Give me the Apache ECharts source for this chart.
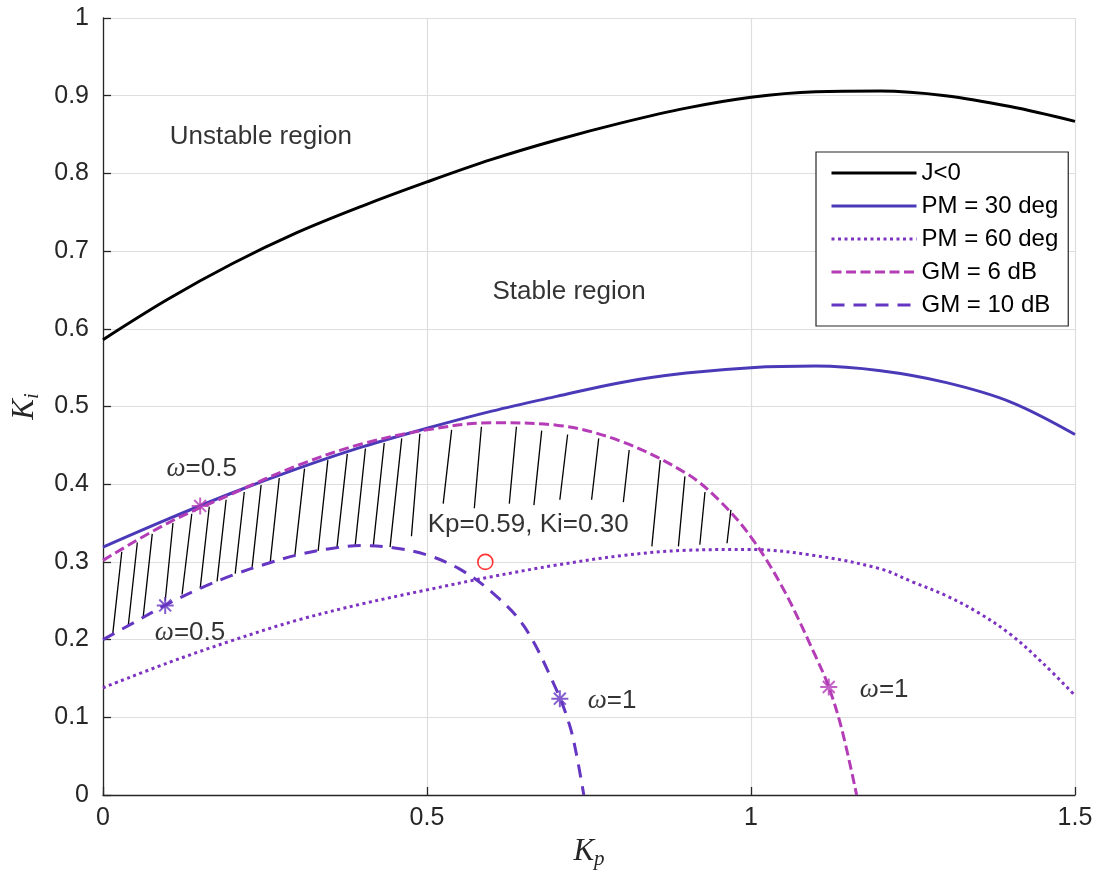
<!DOCTYPE html>
<html><head><meta charset="utf-8">
<script src="https://cdn.jsdelivr.net/npm/echarts@6/dist/echarts.min.js"></script>
<style>html,body{margin:0;padding:0;background:#fff}#c{width:1105px;height:877px}</style>
</head><body><div id="c"></div>
<script>
// ---- data ----
const kpGrid = [0,0.1,0.2,0.3,0.4,0.5,0.6,0.7,0.8,0.9,1.0,1.1,1.2,1.3,1.4,1.5];
const kiJ    = [0.586,0.638,0.684,0.724,0.758,0.789,0.818,0.843,0.865,0.884,0.898,0.905,0.906,0.900,0.886,0.867];
const kiPM30 = [0.319,0.355,0.389,0.420,0.448,0.472,0.494,0.513,0.531,0.543,0.550,0.552,0.546,0.531,0.506,0.464];
const kpPM60 = [0,0.1,0.2,0.3,0.4,0.5,0.6,0.7,0.8,0.9,1.0,1.1,1.2,1.25,1.3,1.35,1.4,1.45,1.5];
const kiPM60 = [0.138,0.170,0.199,0.225,0.246,0.264,0.281,0.296,0.308,0.315,0.316,0.308,0.291,0.274,0.257,0.235,0.207,0.170,0.128];
const kpGM6  = [0,0.1,0.2,0.3,0.4,0.5,0.6,0.7,0.8,0.9,0.95,1.0,1.05,1.1,1.12,1.14,1.163];
const kiGM6  = [0.302,0.350,0.388,0.424,0.452,0.470,0.479,0.476,0.455,0.414,0.380,0.332,0.265,0.178,0.139,0.085,0];
const kpGM10 = [0,0.05,0.1,0.15,0.2,0.25,0.3,0.35,0.4,0.45,0.5,0.55,0.6,0.65,0.7,0.72,0.73,0.742];
const kiGM10 = [0.200,0.223,0.246,0.266,0.283,0.297,0.309,0.317,0.321,0.318,0.309,0.291,0.261,0.217,0.135,0.090,0.055,0];
const starsGM6  = [[0.15,0.372],[1.12,0.139]];
const starsGM10 = [[0.096,0.244],[0.705,0.124]];
const designPoint = [[0.59,0.30]];
// hatch strokes (start Kp/Ki -> end Kp/Ki)
const hatchKp0 = [0.015,0.039,0.062,0.096,0.122,0.150,0.176,0.204,0.230,0.258,0.296,0.332,0.361,0.389,0.417,0.443,0.476,0.525,0.573,0.627,0.665,0.705,0.754,0.803,0.847,0.888,0.921,0.963];
const hatchKi0 = [0.207,0.218,0.229,0.250,0.258,0.266,0.275,0.285,0.292,0.299,0.308,0.314,0.318,0.320,0.320,0.319,0.333,0.375,0.369,0.375,0.373,0.380,0.380,0.377,0.320,0.320,0.322,0.324];
const hatchKp1 = [0.029,0.053,0.076,0.108,0.137,0.164,0.190,0.218,0.244,0.272,0.311,0.347,0.377,0.405,0.434,0.461,0.489,0.538,0.584,0.638,0.677,0.717,0.765,0.812,0.860,0.898,0.929,0.969];
const hatchKi1 = [0.313,0.325,0.336,0.350,0.362,0.371,0.380,0.390,0.399,0.408,0.420,0.431,0.439,0.446,0.453,0.459,0.465,0.470,0.474,0.474,0.469,0.464,0.459,0.444,0.431,0.410,0.390,0.367];
const xTicks = [0,0.5,1,1.5];
const yTicks = [0,0.1,0.2,0.3,0.4,0.5,0.6,0.7,0.8,0.9,1];

// ---- chart ----
const zip = (a,b) => a.map((v,i)=>[v,b[i]]);
const FONT = "'Liberation Sans', Arial, Helvetica, sans-serif";
const SERIF = "'Liberation Serif','DejaVu Serif',serif";
const C_J='#000000', C_PM30='#4b3ab8', C_PM60='#7d33c2', C_GM6='#b43cb6', C_GM10='#6536c2';
const starPath = 'path://M10,0L10,20M0,10L20,10M3,3L17,17M3,17L17,3';
const omega = (v)=>'{w|ω}{t|='+v+'}';
const richOmega = {w:{fontFamily:SERIF,fontStyle:'italic',fontSize:27,color:'#000'},t:{fontFamily:FONT,fontSize:26,color:'#000'}};
const chart = echarts.init(document.getElementById('c'), null, {renderer:'canvas'});
function txt(x,y,f){return {value:[x,y],label:{show:true,formatter:f,color:'#000'}};}
const nameRich = (s)=>({rich:{k:{fontFamily:SERIF,fontStyle:'italic',fontSize:31,color:'#262626'},
      s:{fontFamily:SERIF,fontStyle:'italic',fontSize:21,color:'#262626',padding:[16,0,0,0]}}});
function lineSeries(name,data,color,type){
  return {type:'line',name:name,data:data,showSymbol:false,symbol:'none',smooth:0.35,
    lineStyle:{color:color,width:3,type:type||'solid'},itemStyle:{color:color},z:3};
}
chart.setOption({
  animation:false,
  backgroundColor:'#fff',
  grid:{left:103,right:30,top:18,bottom:82,containLabel:false},
  xAxis:{type:'value',min:0,max:1.5,interval:0.5,
    axisLine:{show:true,lineStyle:{color:'#262626',width:1.3}},
    axisTick:{show:true,inside:true,length:8,lineStyle:{color:'#262626',width:1.3}},
    axisLabel:{color:'#262626',fontSize:25,fontFamily:FONT,margin:11,formatter:v=>String(v)},
    splitLine:{show:true,lineStyle:{color:'#dedede',width:1.2}},
    name:'{k|K}{s|p}',nameLocation:'middle',nameGap:38,nameTextStyle:nameRich()
  },
  yAxis:{type:'value',min:0,max:1,interval:0.1,
    axisLine:{show:true,lineStyle:{color:'#262626',width:1.3}},
    axisTick:{show:true,inside:true,length:8,lineStyle:{color:'#262626',width:1.3}},
    axisLabel:{color:'#262626',fontSize:25,fontFamily:FONT,margin:14,formatter:v=>String(Math.round(v*10)/10)},
    splitLine:{show:true,lineStyle:{color:'#dedede',width:1.2}},
    name:'{k|K}{s|i}',nameLocation:'middle',nameGap:52,nameRotate:90,nameTextStyle:nameRich()
  },
  legend:{orient:'vertical',left:816,top:152,
    data:['J<0','PM = 30 deg','PM = 60 deg','GM = 6 dB','GM = 10 dB'],
    itemWidth:85,itemHeight:14,itemGap:7,padding:[8,10,8,14],
    backgroundColor:'#fff',borderColor:'#262626',borderWidth:1.2,
    itemStyle:{opacity:0},
    lineStyle:{width:3},
    textStyle:{fontSize:24,fontFamily:FONT,color:'#000',lineHeight:26}},
  series:[
    {type:'custom',name:'hatch',silent:true,z:1,
      data:hatchKp0.map((x,i)=>[x,hatchKi0[i],hatchKp1[i],hatchKi1[i]]),
      encode:{x:[0,2],y:[1,3]},
      renderItem:(params,api)=>{const p0=api.coord([api.value(0),api.value(1)]);const p1=api.coord([api.value(2),api.value(3)]);
        return {type:'line',shape:{x1:p0[0],y1:p0[1],x2:p1[0],y2:p1[1]},style:{stroke:'#000',lineWidth:1.3}};}},
    lineSeries('J<0',zip(kpGrid,kiJ),C_J),
    lineSeries('PM = 30 deg',zip(kpGrid,kiPM30),C_PM30),
    lineSeries('PM = 60 deg',zip(kpPM60,kiPM60),C_PM60,[3,3.5]),
    lineSeries('GM = 6 dB',zip(kpGM6,kiGM6),C_GM6,[10,4.5]),
    lineSeries('GM = 10 dB',zip(kpGM10,kiGM10),C_GM10,[13,9]),
    {type:'scatter',name:'starsGM6',data:starsGM6,symbol:starPath,symbolSize:17,symbolKeepAspect:true,
      itemStyle:{color:'rgba(0,0,0,0)',borderColor:C_GM6,borderWidth:2},z:5},
    {type:'scatter',name:'starsGM10',data:starsGM10,symbol:starPath,symbolSize:17,symbolKeepAspect:true,
      itemStyle:{color:'rgba(0,0,0,0)',borderColor:C_GM10,borderWidth:2},z:5},
    {type:'scatter',name:'design',data:designPoint,symbol:'circle',symbolSize:15,
      itemStyle:{color:'rgba(0,0,0,0)',borderColor:'#ff0000',borderWidth:1.6},z:5},
    {type:'scatter',name:'annot',symbolSize:0,silent:true,z:6,
      label:{show:true,position:'right',distance:0,fontFamily:FONT,fontSize:26,color:'#000',rich:richOmega},
      data:[
        txt(0.103,0.847,'Unstable region'),
        txt(0.601,0.648,'Stable region'),
        txt(0.501,0.348,'Kp=0.59, Ki=0.30'),
        txt(0.098,0.420,omega('0.5')),
        txt(0.080,0.209,omega('0.5')),
        txt(0.748,0.121,omega('1')),
        txt(1.168,0.135,omega('1'))
      ]}
  ]
});
</script></body></html>
